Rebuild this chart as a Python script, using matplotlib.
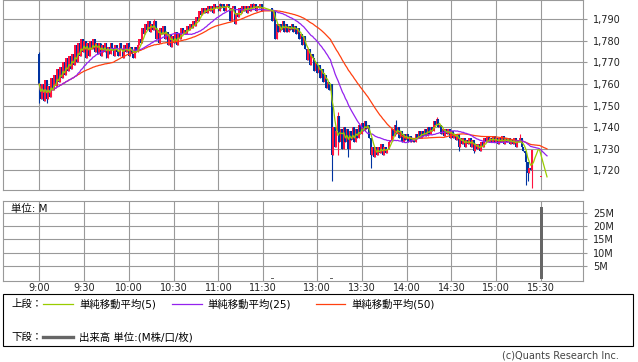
import numpy as np
import pandas as pd
import matplotlib
matplotlib.use("Agg")
import matplotlib.pyplot as plt
from matplotlib.lines import Line2D
from matplotlib.patches import Rectangle

plt.rcParams["font.family"] = ["DejaVu Sans", "Noto Sans CJK JP"]

# 1-minute closes
am_start = "9:00"
am_close = [
    1760, 1753, 1760, 1752, 1762, 1753, 1759, 1754, 1763, 1757,
    1764, 1759, 1767, 1761, 1768, 1763, 1770, 1764, 1772, 1766,
    1773, 1767, 1774, 1769, 1778, 1770, 1779, 1773, 1781, 1775,
    1780, 1772, 1779, 1773, 1780, 1776, 1781, 1775, 1779, 1774,
    1779, 1773, 1778, 1775, 1779, 1772, 1777, 1774, 1779, 1776,
    1773, 1778, 1775, 1773, 1779, 1776, 1772, 1778, 1775, 1779,
    1773, 1777, 1774, 1772, 1777, 1775, 1778, 1781, 1779, 1786,
    1783, 1788, 1785, 1789, 1784, 1788, 1785, 1789, 1781, 1785,
    1779, 1786, 1783, 1787, 1781, 1784, 1778, 1783, 1777, 1782,
    1779, 1784, 1778, 1783, 1781, 1786, 1783, 1785, 1783, 1787,
    1785, 1788, 1786, 1789, 1787, 1791, 1789, 1794, 1792, 1795,
    1793, 1795, 1793, 1796, 1794, 1796, 1793, 1797, 1795, 1796,
    1794, 1797, 1795, 1797, 1794, 1796, 1797, 1795, 1789, 1795,
    1796, 1788, 1793, 1791, 1795, 1793, 1796, 1794, 1796, 1793,
    1796, 1794, 1797, 1795, 1797, 1794, 1796, 1795, 1797, 1794,
    1795,
]
pm_start = "12:30"
pm_close = [
    1789, 1794, 1781, 1788, 1784, 1788, 1785, 1789, 1784, 1788,
    1784, 1787, 1785, 1788, 1784, 1787, 1783, 1786, 1781, 1783,
    1778, 1782, 1776, 1771, 1776, 1769, 1774, 1772, 1766, 1770,
    1765, 1769, 1763, 1767, 1761, 1764, 1758, 1761, 1757, 1760,
    1727, 1740, 1731, 1738, 1745, 1733, 1739, 1730, 1740, 1733,
    1739, 1730, 1738, 1734, 1740, 1733, 1739, 1735, 1741, 1737,
    1742, 1738, 1743, 1739, 1741, 1735, 1727, 1731, 1726, 1731,
    1727, 1731, 1728, 1732, 1727, 1731, 1728, 1730, 1733, 1734,
    1739, 1736, 1741, 1737, 1740, 1735, 1738, 1733, 1737, 1734,
    1737, 1733, 1736, 1733, 1735, 1733, 1737, 1735, 1738, 1735,
    1738, 1736, 1739, 1736, 1740, 1737, 1740, 1738, 1743, 1741,
    1744, 1740, 1741, 1737, 1739, 1736, 1739, 1737, 1739, 1735,
    1738, 1735, 1737, 1734, 1737, 1731, 1735, 1732, 1735, 1731,
    1734, 1732, 1735, 1731, 1734, 1729, 1732, 1730, 1732, 1729,
    1733, 1731, 1735, 1733, 1736, 1733, 1735, 1733, 1736, 1733,
    1735, 1732, 1735, 1733, 1736, 1732, 1735, 1733, 1735, 1732,
    1734, 1732, 1735, 1731, 1734, 1733, 1735, 1731, 1729, 1728,
    1724, 1719, 1721, 1720, 1729.5,
]
auction_time = "15:30"
auction_price = 1717
ma_end = "15:34"

open_fix = {"9:00": 1774, "15:30": 1717}
wick_high = {"9:00": 1775, "10:17": 1790, "11:01": 1797.5, "11:23": 1797.5,
             "12:30": 1795, "13:14": 1747, "13:53": 1743.5, "14:20": 1744.5,
             "15:16": 1737}
wick_low = {"9:00": 1751, "9:05": 1751, "13:10": 1715, "13:14": 1727,
            "13:21": 1726, "13:36": 1721, "14:35": 1729, "14:45": 1728,
            "15:20": 1713, "15:21": 1715, "15:24": 1712}

vol_time = ["12:30", "13:10", "15:30"]
vol_m = [0.6, 0.4, 27.3]

ma_periods = [5, 25, 50]
ma_colors = ["#99cc00", "#9422ee", "#ff4010"]

price_ticks = [1720, 1730, 1740, 1750, 1760, 1770, 1780, 1790]
vol_ticks = [5, 10, 15, 20, 25]
time_ticks = ["9:00", "9:30", "10:00", "10:30", "11:00", "11:30",
              "13:00", "13:30", "14:00", "14:30", "15:00", "15:30"]


def pos(t):
    # minutes from 9:00, lunch break squeezed to 6 minutes
    h, m = map(int, t.split(":"))
    mins = h * 60 + m
    if mins < 12 * 60:
        return mins - 9 * 60
    return 156 + mins - (12 * 60 + 30)


am_x = pos(am_start) + np.arange(len(am_close))
pm_x = pos(pm_start) + np.arange(len(pm_close))
xs = list(am_x) + list(pm_x) + [pos(auction_time)]
close = pd.Series(am_close + pm_close + [auction_price], index=xs, dtype=float)
opn = close.shift(1)
for t, v in open_fix.items():
    opn[pos(t)] = v
hi = np.maximum(opn, close)
lo = np.minimum(opn, close)
for t, v in wick_high.items():
    hi[pos(t)] = max(hi[pos(t)], v)
for t, v in wick_low.items():
    lo[pos(t)] = min(lo[pos(t)], v)

full_x = list(am_x) + list(range(pos(pm_start), pos(ma_end) + 1))
full = close.reindex(full_x).ffill()

W, H = 638, 362
fig = plt.figure(figsize=(W / 100, H / 100), dpi=100)


def fx(x):
    return x / W


def fy(y):
    return 1 - y / H


grid_c = "#999999"
ax = fig.add_axes([fx(3), fy(190), fx(580), 190 / H])
ax2 = fig.add_axes([fx(3), fy(280.5), fx(580), 79.5 / H])

up = (close >= opn).values
body_col = np.where(up, "#ff1440", "#0033a0")
ax.vlines(close.index, lo.values, hi.values, colors=body_col, lw=0.8, zorder=3)
ax.bar(close.index, np.maximum((close - opn).abs().values, 0.45),
       bottom=np.minimum(opn.values, close.values),
       width=1.3, color=body_col, linewidth=0, zorder=3)

for n, c in zip(ma_periods[::-1], ma_colors[::-1]):
    ma = full.rolling(n, min_periods=1).mean()
    ax.plot(ma.index, ma.values, color=c, lw=0.9, zorder=4)

xlim = (-24.3, 364.1)
for a in (ax, ax2):
    a.set_xlim(*xlim)
    a.set_xticks([pos(t) for t in time_ticks])
    a.grid(True, color=grid_c, lw=0.8)
    a.set_axisbelow(True)
    for s in a.spines.values():
        s.set_color(grid_c)
        s.set_linewidth(0.8)
    a.yaxis.tick_right()
    a.tick_params(axis="y", length=3, width=0.8, color=grid_c, pad=4.5,
                  labelsize=7, labelcolor="#222222")
    a.tick_params(axis="x", length=0)

ax.set_ylim(1710.9, 1798.9)
ax.set_yticks(price_ticks)
ax.set_yticklabels([f"{v:,}" for v in price_ticks])
ax.tick_params(axis="x", labelbottom=False)

ax2.bar([pos(t) for t in vol_time], vol_m, width=2.0, color="#666666", linewidth=0, zorder=3)
ax2.set_ylim(-0.5, 29.4)
ax2.set_yticks(vol_ticks)
ax2.set_yticklabels([f"{v}M" for v in vol_ticks])
ax2.set_xticklabels(time_ticks)
ax2.tick_params(axis="x", labelsize=7, labelcolor="#222222", pad=2)

fig.text(fx(11), fy(209), "単位: M", fontsize=7.5, va="center", ha="left", color="#111111")

# legend box
fig.patches.append(Rectangle((fx(3.3), fy(346)), fx(629.7), 51.7 / H,
                             transform=fig.transFigure, fill=False,
                             edgecolor="black", lw=0.8))
ly1, ly2 = 304, 337
fig.text(fx(11.5), fy(ly1), "上段：", fontsize=7.5, va="center")
leg = [(43, 73, 79, "単純移動平均(5)"), (172, 202, 207, "単純移動平均(25)"),
       (316, 345, 351, "単純移動平均(50)")]
for (x0, x1, xt, lab), c in zip(leg, ma_colors):
    fig.add_artist(Line2D([fx(x0), fx(x1)], [fy(ly1), fy(ly1)], color=c, lw=0.9,
                          transform=fig.transFigure))
    fig.text(fx(xt), fy(ly1), lab, fontsize=7.5, va="center")
fig.text(fx(11.5), fy(ly2), "下段：", fontsize=7.5, va="center")
fig.add_artist(Line2D([fx(43), fx(73)], [fy(ly2), fy(ly2)], color="#666666", lw=2.4,
                      transform=fig.transFigure))
fig.text(fx(79), fy(ly2), "出来高 単位:(M株/口/枚)", fontsize=7.5, va="center")

fig.text(fx(619), fy(356), "(c)Quants Research Inc.", fontsize=7, ha="right",
         va="center", color="#444444")

fig.savefig("out.png", dpi=100)
